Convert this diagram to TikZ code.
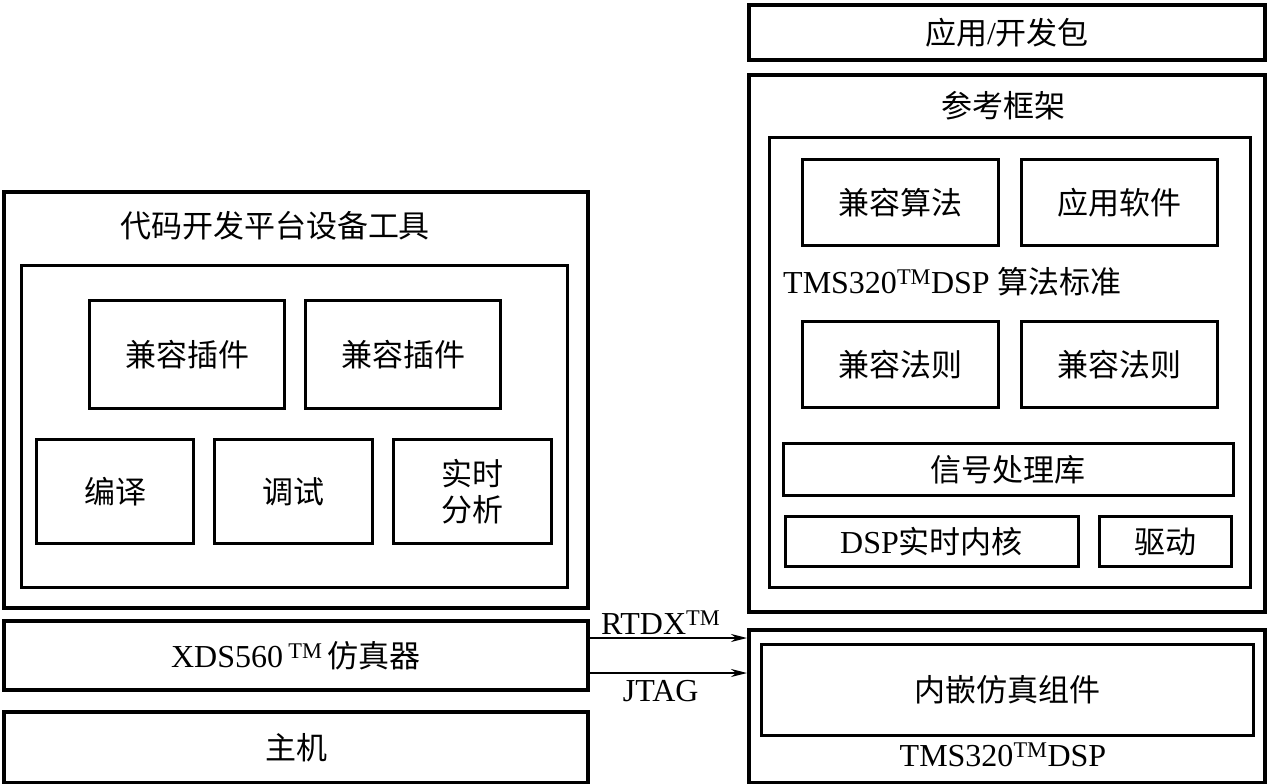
\documentclass[tikz,border=0pt]{standalone}
\usepackage{fontspec}
\setmainfont{Liberation Serif}
\newfontfamily\cjk{Noto Sans CJK SC}
\usetikzlibrary{arrows.meta}
\begin{document}
\begin{tikzpicture}[x=1pt,y=-1pt,
  font=\fontsize{32}{36}\selectfont,
  cjk/.style={font=\cjk\fontsize{31}{36}\selectfont},
  outer/.style={draw,line width=4pt},
  inner/.style={draw,line width=3pt},
  lbl/.style={inner sep=0pt,anchor=center},
  conn/.style={line width=2pt,-{Stealth[length=16pt,width=8pt]}}]
\useasboundingbox (0,0) rectangle (1270,784);
% Left side
\node[outer,minimum width=584pt,minimum height=416pt,anchor=north west] (tools) at (2,190) {};
\node[lbl,cjk] (toolsT) at (275,226) {代码开发平台设备工具};
\node[inner,minimum width=546pt,minimum height=322pt,anchor=north west] (toolsIn) at (19.5,263.5) {};
\node[inner,minimum width=195pt,minimum height=108pt,anchor=north west,cjk] (p1) at (88,299) {兼容插件};
\node[inner,minimum width=195pt,minimum height=108pt,anchor=north west,cjk] (p2) at (304,299) {兼容插件};
\node[inner,minimum width=157pt,minimum height=104pt,anchor=north west,cjk] (c1) at (35,438) {编译};
\node[inner,minimum width=158pt,minimum height=104pt,anchor=north west,cjk] (c2) at (213,438) {调试};
\node[inner,minimum width=158pt,minimum height=104pt,anchor=north west,align=center,cjk] (c3) at (392,438) {实时\\分析};
\node[outer,minimum width=584pt,minimum height=69pt,anchor=north west] (xds) at (2,619) {XDS560\,\textsuperscript{TM}\,{\cjk\fontsize{31}{36}\selectfont 仿真器}};
\node[outer,minimum width=584pt,minimum height=71pt,anchor=north west,cjk] (host) at (2,710) {主机};
% Right side
\node[outer,minimum width=516pt,minimum height=55pt,anchor=north west] (pkg) at (747,3) {{\cjk\fontsize{31}{36}\selectfont 应用}/{\cjk\fontsize{31}{36}\selectfont 开发包}};
\node[outer,minimum width=516pt,minimum height=537pt,anchor=north west] (ref) at (747,73) {};
\node[lbl,cjk] (refT) at (1003,106) {参考框架};
\node[inner,minimum width=481pt,minimum height=450pt,anchor=north west] (refIn) at (767.5,135.5) {};
\node[inner,minimum width=196pt,minimum height=86pt,anchor=north west,cjk] (a1) at (801,158) {兼容算法};
\node[inner,minimum width=196pt,minimum height=86pt,anchor=north west,cjk] (a2) at (1020,158) {应用软件};
\node[lbl,anchor=west] (std) at (783,282) {TMS320\textsuperscript{TM}DSP {\cjk\fontsize{31}{36}\selectfont 算法标准}};
\node[inner,minimum width=196pt,minimum height=86pt,anchor=north west,cjk] (r1) at (801,320) {兼容法则};
\node[inner,minimum width=196pt,minimum height=86pt,anchor=north west,cjk] (r2) at (1020,320) {兼容法则};
\node[inner,minimum width=450pt,minimum height=52pt,anchor=north west,cjk] (lib) at (781.5,442) {信号处理库};
\node[inner,minimum width=293pt,minimum height=50pt,anchor=north west] (ker) at (783.5,515) {DSP{\cjk\fontsize{31}{36}\selectfont 实时内核}};
\node[inner,minimum width=132pt,minimum height=50pt,anchor=north west,cjk] (drv) at (1097.5,515) {驱动};
\node[outer,minimum width=516pt,minimum height=153pt,anchor=north west] (dsp) at (747,628) {};
\node[inner,minimum width=492pt,minimum height=91pt,anchor=north west,cjk] (emu) at (759.5,642.5) {内嵌仿真组件};
\node[lbl] (dspT) at (1003,755) {TMS320\textsuperscript{TM}DSP};
% Connectors
\coordinate (s1) at (xds.east |- 0,638);
\coordinate (s2) at (xds.east |- 0,673);
\draw[conn] (s1) -- (s1 -| dsp.west) node[pos=0.45,above=2pt,inner sep=0pt] (rtdx) {RTDX\textsuperscript{TM}};
\draw[conn] (s2) -- (s2 -| dsp.west) node[pos=0.45,below=6pt,inner sep=0pt] (jtag) {JTAG};
\end{tikzpicture}
\end{document}
